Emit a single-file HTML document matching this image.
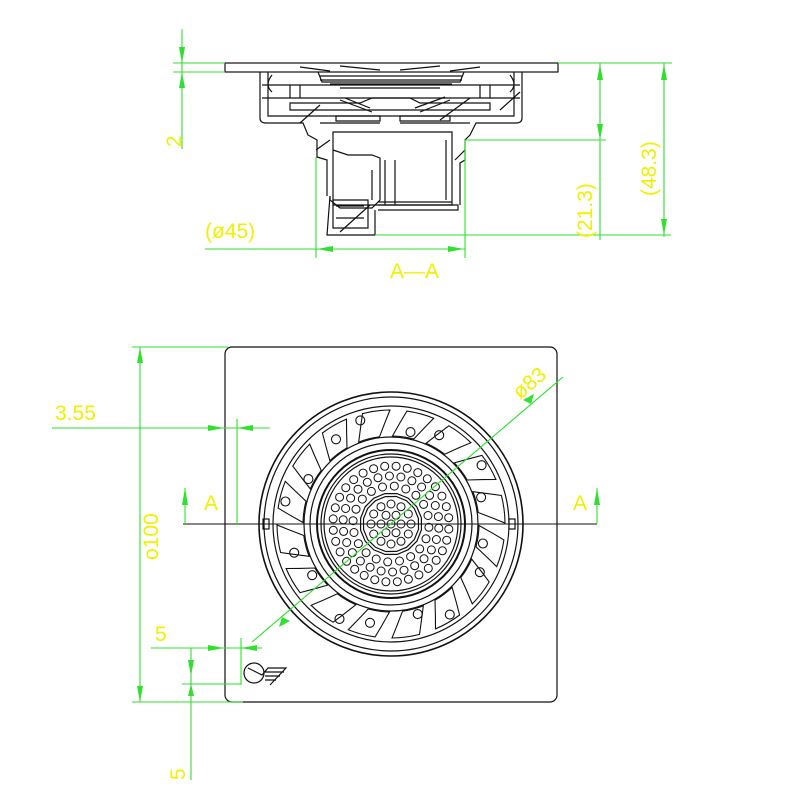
<!DOCTYPE html>
<html><head><meta charset="utf-8"><style>
html,body{margin:0;padding:0;background:#fff;width:800px;height:800px;overflow:hidden}
svg{display:block}
text{font-family:"Liberation Sans",sans-serif;fill:#f0f000}
</style></head><body>
<svg id="s" width="800" height="800" viewBox="0 0 800 800" xmlns="http://www.w3.org/2000/svg">
<g fill="none" stroke="#111" stroke-width="1.2">
<!-- SECTION VIEW -->
<rect x="225" y="63" width="333" height="9"/>
<path d="M260 72 V118 Q260 123 266 123 H303 L308 135 L317 140 V157 L327 160 V196"/>
<path d="M522 72 V118 Q522 123 516 123 H476 L470 135 L465 140 V160 L460 163 V205"/>
<path d="M268 72 V116 H514 V72"/>
<path d="M262 85 H520 M262 98 H520"/>
<path d="M318 72 L322 82 H460 L464 72"/>
<path d="M320 76 H462 M320 80 H462 M330 84 H452 M340 88 H440"/>
<path d="M340 66 L380 70 M400 70 L440 66 M300 67 L330 71 M450 71 L480 67"/>
<path d="M290 103 H360 L372 98 H410 L420 103 H490 V110 H290 Z"/>
<path d="M340 100 L372 112 M345 98 L370 108 M420 112 L450 100 M415 108 L445 97"/>
<path d="M290 98 V85 M300 98 V85 M480 98 V85 M490 98 V85"/>
<path d="M336 116 H380 V121 H336 Z M400 116 H450 V121 H400 Z M320 123 H380 M400 123 H470"/>
<path d="M333 132 H452 V205 H333 Z"/>
<path d="M333 150 L348 155 H372 L380 158 V200 L372 208 H340 L330 200 V196"/>
<path d="M378 205 H458 V210 H378 M378 202 H452"/>
<path d="M330 196 L327 235 H375 V210"/>
<path d="M333 200 H368 V228 H333 Z M336 206 H364 M336 218 H364"/>
<path d="M385 160 V205 M395 160 V205 M372 170 V200 M446 140 V200"/>
<path d="M272 75 Q264 85 272 92 M510 75 Q518 85 510 92"/>
<path d="M440 120 L470 98 M300 123 L320 105 M500 110 L520 92 M340 232 L370 205 M316 150 L330 140 M455 160 L465 150"/>
<!-- PLAN VIEW -->
<rect x="225" y="347" width="332" height="355" rx="7"/>
<circle cx="391" cy="524" r="132" stroke-width="1.6"/>
<circle cx="391" cy="524" r="127"/>
<circle cx="391" cy="524" r="118"/>
<circle cx="391" cy="524" r="87"/>
<circle cx="391" cy="524" r="81"/>
<circle cx="391" cy="524" r="74" stroke-width="2"/>
<circle cx="391" cy="524" r="70"/>
<circle cx="391" cy="524" r="67"/>
<polygon id="oct" points=""/>
<polygon id="oct2" points=""/>
<g id="slots" stroke-width="1.1"></g>
<g id="holes" stroke-width="1"></g>
<line x1="183" y1="524" x2="597" y2="524" stroke-width="1"/>
<rect x="263" y="519" width="6" height="10"/>
<rect x="509" y="519" width="6" height="10"/>
<!-- logo -->
<circle cx="254" cy="673" r="10"/>
<path d="M248 668 L262 675 L268 668 H286 L270 685 M265 672 H284 M265 676 H280 M265 680 H276"/>
</g>
<g stroke="#2fe02f" stroke-width="1.1" fill="none">
<line x1="182" y1="29" x2="182" y2="149"/>
<line x1="173" y1="63" x2="225" y2="63"/>
<line x1="173" y1="72" x2="225" y2="72"/>
<line x1="558" y1="63" x2="672" y2="63"/>
<line x1="600" y1="63" x2="600" y2="240"/>
<line x1="664" y1="63" x2="664" y2="237"/>
<line x1="465" y1="140" x2="606" y2="140"/>
<line x1="375" y1="235" x2="671" y2="235"/>
<line x1="316" y1="157" x2="316" y2="258"/>
<line x1="465" y1="140" x2="465" y2="258"/>
<line x1="205" y1="249" x2="465" y2="249"/>
<line x1="140" y1="347" x2="140" y2="702"/>
<line x1="132" y1="347" x2="228" y2="347"/>
<line x1="132" y1="702" x2="243" y2="702"/>
<line x1="52" y1="428" x2="270" y2="428"/>
<line x1="237" y1="419" x2="237" y2="524"/>
<line x1="151" y1="648" x2="262" y2="648"/>
<line x1="241" y1="638" x2="241" y2="685"/>
<line x1="191" y1="648" x2="191" y2="780"/>
<line x1="182" y1="684" x2="241" y2="684"/>
<line x1="185" y1="488" x2="185" y2="524"/>
<line x1="597" y1="488" x2="597" y2="524"/>
<line x1="563" y1="377" x2="252" y2="642"/>
</g>
<g fill="#2fe02f">
<polygon points="179,47 185,47 182,63"/>
<polygon points="179,88 185,88 182,72"/>
<polygon points="597,80 603,80 600,64"/>
<polygon points="597,124 603,124 600,140"/>
<polygon points="661,80 667,80 664,64"/>
<polygon points="661,219 667,219 664,235"/>
<polygon points="333,246 333,252 317,249"/>
<polygon points="448,246 448,252 464,249"/>
<polygon points="137,363 143,363 140,347"/>
<polygon points="137,686 143,686 140,702"/>
<polygon points="208,425 208,431 224,428"/>
<polygon points="253,425 253,431 237,428"/>
<polygon points="208,645 208,651 224,648"/>
<polygon points="257,645 257,651 241,648"/>
<polygon points="188,660 194,660 191,676"/>
<polygon points="188,696 194,696 191,684"/>
<polygon points="182,505 188,505 185,488"/>
<polygon points="594,505 600,505 597,488"/>
<polygon points="531,404 523,400 534,394"/>
<polygon points="282,617 290,621 279,627"/>
</g>
<g font-size="21">
<text x="0" y="0" transform="translate(181,147) rotate(-90)">2</text>
<text x="0" y="0" transform="translate(592,238) rotate(-90)">(21.3)</text>
<text x="0" y="0" transform="translate(656,196) rotate(-90)">(48.3)</text>
<text x="205" y="238">(ø45)</text>
<text x="390" y="278">A—A</text>
<text x="55" y="420">3.55</text>
<text x="0" y="0" transform="translate(158,560) rotate(-90)">o100</text>
<text x="155" y="641">5</text>
<text x="0" y="0" transform="translate(185,780) rotate(-90)">5</text>
<text x="204" y="510">A</text>
<text x="573" y="510">A</text>
<text x="0" y="0" transform="translate(520,400) rotate(-40)">ø83</text>
</g>
</svg>
<script>
var cx=391,cy=524,ns="http://www.w3.org/2000/svg";
function P(r,a){a=a*Math.PI/180;return (cx+r*Math.cos(a)).toFixed(1)+","+(cy+r*Math.sin(a)).toFixed(1);}
function poly(id,r,n){var p=[];for(var i=0;i<n;i++){p.push(P(r,i*360/n+11));}document.getElementById(id).setAttribute("points",p.join(" "));}
poly("oct",31,16);poly("oct2",28,16);
var sl=document.getElementById("slots");
for(var i=0;i<16;i++){var t=i*22.5+8,w=7,tw=7;
var path=document.createElementNS(ns,"path");
path.setAttribute("d","M"+P(88,t-w)+" L"+P(102,t-w+tw*0.6)+" L"+P(114,t-w+tw)+" A114 114 0 0 1 "+P(114,t+w+tw)+" L"+P(102,t+w+tw*0.6)+" L"+P(88,t+w)+" A88 88 0 0 0 "+P(88,t-w)+" Z");
sl.appendChild(path);
var h=P(94+(i%3)*7,t+(i%2?-2:4)).split(",");var ci=document.createElementNS(ns,"circle");
ci.setAttribute("cx",h[0]);ci.setAttribute("cy",h[1]);ci.setAttribute("r",4.5);sl.appendChild(ci);}
var ho=document.getElementById("holes");
var rings=[[0,1],[10,6],[20,12],[38,20],[48,26],[58,32]];
rings.forEach(function(r){for(var k=0;k<r[1];k++){var q=P(r[0],k*360/r[1]+(r[0]>30?5:0)).split(",");
var ci=document.createElementNS(ns,"circle");ci.setAttribute("cx",q[0]);ci.setAttribute("cy",q[1]);ci.setAttribute("r",4);ho.appendChild(ci);}});
</script>
</body></html>
